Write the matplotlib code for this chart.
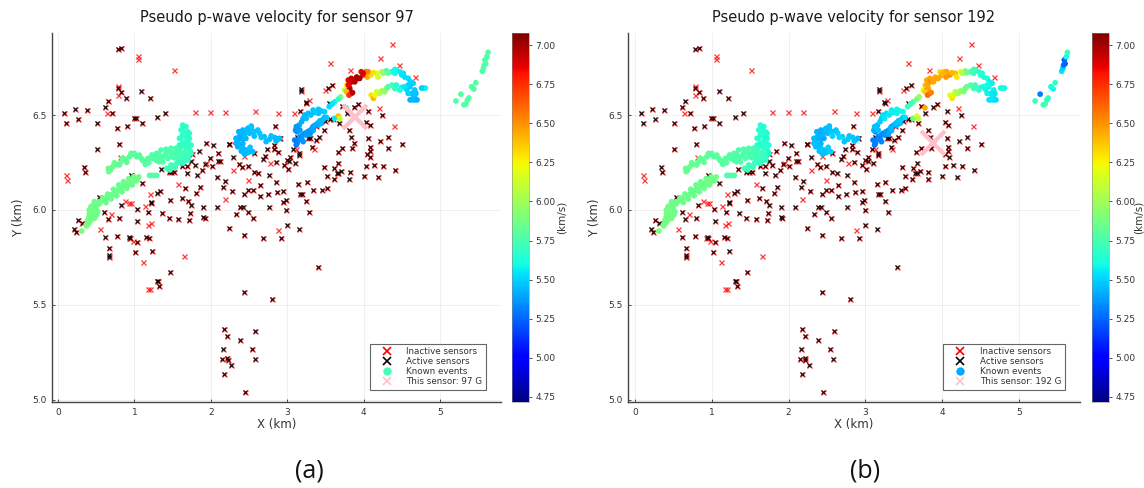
import matplotlib
matplotlib.use('Agg')
import matplotlib.pyplot as plt
from matplotlib.cm import ScalarMappable
from matplotlib.colors import Normalize
from matplotlib.lines import Line2D

W, H = 1144, 488

# sensors (km)
active_x = [.78, .83, .08, .11, .22, .26, .38, .51, .51, .345, .35, .61, .65, .71, .77, .90, .795, .78, .83, .89,
            1.09, 1.205, .99, 1.02, 1.10, 1.30, 1.40, .95, 1.10, .54, .825, 1.035, 1.22, 1.22, 1.18, 1.29, 1.33,
            1.345, 1.45, 1.485, 1.525, 1.69, 1.75, 1.84, 1.94, 2.035, 2.09, 2.235, 2.24, 1.99, 2.10, 2.12, 2.29,
            1.63, 1.69, 1.74, 1.79, 1.93, 1.89, 2.01, 1.82, 2.08, 2.19, 2.16, 2.275, 1.855, 1.81, 1.66, 1.62, 1.46,
            1.70, 1.74, 1.895, 2.08, 2.385, 2.42, 2.44, 2.49, 2.55, 2.64, 2.645, 2.75, 2.865, 2.765, 2.855, 2.76,
            2.37, 2.405, 2.485, 2.57, 2.625, 2.68, 2.71, 2.73, 2.825, 2.825, 2.885, 2.855, 2.56, 2.84, 2.9,
            .258, .31, .205, .236, .607, .65, .80, 1.04, 1.36, 1.45, 1.575, 1.72, 1.73, 1.895, 1.92, 2.33, 2.49,
            2.555, 2.24, 2.43, 2.685, .615, .775, .935, .948, 1.04, 1.155, 1.195, .664, .664, .664, 1.013, 1.227,
            1.463, 1.297, 1.31, 1.327, 2.43, 2.80, 2.175, 2.214, 2.38, 2.585, 2.16, 2.537, 2.15, 2.214, 2.22, 2.26,
            2.576, 2.17, 2.454, 3.29, 3.0, 3.157, 3.406, 2.92,
            3.18, 3.18, 3.53, 3.59, 3.245, 3.25, 3.166, 3.55, 3.72, 3.88, 3.93, 4.057, 4.24, 3.49, 3.56, 3.60, 3.38,
            3.48, 3.68, 3.78, 3.81, 4.03, 4.08, 3.84, 3.88, 4.06, 4.22, 4.32, 4.50, 4.32, 3.72, 3.66, 3.85, 4.08,
            4.08, 4.04, 4.09, 3.67, 3.48, 3.62, 3.67, 3.71, 3.65, 3.52, 3.61, 3.82, 3.81, 4.03, 4.0, 4.135, 4.26,
            4.19, 4.41, 3.145, 3.26, 3.166, 3.19, 3.34, 3.46, 3.52, 2.95, 2.95, 2.98, 3.25, 2.99, 2.91, 3.13, 3.275,
            3.305, 3.375, 3.42, 3.33, 3.08, 3.16, 3.16, 3.035, 3.0, 3.03, 2.956, 3.01, 3.10]
active_y = [6.847, 6.853, 6.512, 6.456, 6.53, 6.48, 6.526, 6.46, 6.32, 6.228, 6.2, 6.54, 6.575, 6.512, 6.43, 6.44,
            6.35, 6.64, 6.62, 6.59, 6.628, 6.59, 6.484, 6.484, 6.46, 6.49, 6.51, 6.186, 6.14, 6.067, 6.028, 6.007,
            6.044, 6.035, 5.987, 6.09, 6.10, 6.214, 6.198, 6.198, 6.198, 6.193, 6.295, 6.31, 6.354, 6.342, 6.302,
            6.347, 6.346, 6.274, 6.258, 6.26, 6.28, 6.23, 6.233, 6.256, 6.235, 6.24, 6.21, 6.233, 6.186, 6.174,
            6.154, 6.12, 6.10, 6.12, 6.09, 6.114, 6.065, 6.053, 6.05, 6.026, 6.014, 6.014, 6.018, 6.018, 6.084,
            6.105, 6.105, 6.13, 6.074, 6.084, 6.093, 6.014, 6.15, 6.182, 6.242, 6.228, 6.23, 6.2, 6.197, 6.27,
            6.286, 6.323, 6.344, 6.323, 6.307, 6.254, 6.298, 6.442, 6.377,
            5.949, 5.93, 5.898, 5.886, 5.99, 5.951, 5.958, 5.944, 5.982, 5.96, 5.951, 5.947, 5.982, 5.965, 5.96,
            5.98, 5.988, 5.956, 5.904, 5.867, 5.851, 5.86, 5.861, 5.856, 5.853, 5.833, 5.86, 5.85, 5.80, 5.763,
            5.754, 5.777, 5.784, 5.674, 5.626, 5.626, 5.602, 5.568, 5.532, 5.372, 5.335, 5.314, 5.365, 5.27, 5.268,
            5.214, 5.219, 5.212, 5.186, 5.214, 5.137, 5.044, 5.99, 5.92, 5.90, 5.70, 5.85,
            6.639, 6.625, 6.644, 6.658, 6.57, 6.561, 6.521, 6.565, 6.547, 6.54, 6.56, 6.521, 6.502, 6.468, 6.477,
            6.479, 6.44, 6.42, 6.456, 6.509, 6.42, 6.465, 6.447, 6.386, 6.354, 6.381, 6.365, 6.384, 6.346, 6.325,
            6.328, 6.304, 6.328, 6.33, 6.312, 6.293, 6.281, 6.25, 6.226, 6.219, 6.196, 6.204, 6.193, 6.179, 6.161,
            6.198, 6.161, 6.233, 6.179, 6.237, 6.232, 6.175, 6.209, 6.139, 6.147, 6.084, 6.082, 6.104, 6.104, 6.116,
            6.102, 6.044, 6.053, 6.046, 5.998, 6.377, 6.386, 6.377, 6.377, 6.368, 6.386, 6.33, 6.321, 6.298, 6.289,
            6.281, 6.263, 6.26, 6.237, 6.214, 6.246]

inactive_x = [1.05, 1.05, 1.515, .78, .785, .64, 1.79, 1.99, 2.19, 2.585, 2.88, .81, .10, .118, 1.57, 1.94, 1.20,
              .88, .935, .96, 1.135, .70, 2.18, 2.29, 2.49, 2.43, 2.77, .555, .926, .98, 1.175, 1.214, 1.114, 1.655,
              1.175, 1.20, 2.88, 4.37, 4.22, 4.47, 3.56, 3.825, 4.67, 3.49, 3.28, 3.09, 4.205, 4.40, 3.35, 3.12]
inactive_y = [6.809, 6.793, 6.735, 6.654, 6.605, 6.512, 6.516, 6.514, 6.514, 6.523, 6.512, 6.28, 6.182, 6.158, 6.139,
              6.249, 6.086, 6.049, 6.035, 6.035, 6.021, 5.977, 6.056, 6.21, 6.158, 6.284, 6.246, 5.898, 5.854, 5.835,
              5.923, 5.93, 5.725, 5.76, 5.582, 5.582, 5.895, 6.875, 6.80, 6.761, 6.772, 6.737, 6.698, 6.63, 6.579,
              6.51, 6.539, 6.444, 6.321, 6.319]

# known events (km), velocity as seen for each sensor (km/s)
event_x = [.31, .376, .40, .43, .41, .445, .476, .445, .41, .454, .476, .54, .607, .67, .74, .80, .87, .935, 1.0,
           1.057, .77, .834, .90, .96,
           .685, .716, .77, .825, .88, .935, .98, 1.03, 1.09, 1.144, 1.18, 1.23, 1.29, 1.35, 1.415, 1.48, 1.545,
           1.61, 1.68, 1.73, 1.71, 1.655, 1.57, 1.48, 1.39, 1.33, 1.64, 1.646, 1.68, 1.61, 1.70, 1.66, 1.71, 1.22,
           1.26, 1.45, 1.50, 1.555, 1.61, 1.655,
           2.46, 2.40, 2.354, 2.354, 2.375, 2.40, 2.46, 2.53, 2.57, 2.64, 2.70, 2.77, 2.835, 2.9, 2.505, 2.42, 2.43,
           3.13, 3.157, 3.21, 3.275, 3.36, 3.45, 3.55, 3.625, 3.70, 3.755, 3.78, 3.80, 3.84, 3.91, 3.97, 4.03, 4.05,
           4.10, 4.17, 4.24, 4.30, 4.37, 4.43, 4.50, 4.585, 4.65, 4.67, 4.78, 4.81,
           3.82, 3.87, 3.80, 3.84, 3.93, 3.82,
           4.10, 4.13, 4.17, 4.24, 4.30, 4.37, 4.43, 4.50, 4.565, 4.63, 4.67, 4.61, 4.67,
           3.13, 3.15, 3.166, 3.20, 3.23, 3.27, 3.30, 3.33, 3.365, 3.40, 3.43, 3.49, 3.62, 3.67, 3.69, 3.775,
           5.21, 5.275, 5.315, 5.34, 5.36, 5.38, 5.415, 5.445, 5.47, 5.555, 5.57, 5.58, 5.59, 5.60, 5.615, 5.63]
event_y = [5.889, 5.916, 5.93, 5.947, 5.965, 5.974, 5.99, 5.991, 5.965, 6.023, 6.044, 6.044, 6.053, 6.075, 6.088,
           6.114, 6.13, 6.146, 6.163, 6.174, 6.10, 6.123, 6.139, 6.154,
           6.21, 6.228, 6.24, 6.254, 6.267, 6.28, 6.293, 6.28, 6.272, 6.258, 6.272, 6.29, 6.298, 6.316, 6.32, 6.325,
           6.325, 6.33, 6.325, 6.312, 6.29, 6.28, 6.29, 6.28, 6.284, 6.272, 6.439, 6.412, 6.386, 6.377, 6.36, 6.342,
           6.333, 6.182, 6.182, 6.219, 6.232, 6.246, 6.258, 6.26,
           6.316, 6.31, 6.333, 6.36, 6.386, 6.404, 6.412, 6.43, 6.412, 6.404, 6.386, 6.372, 6.382, 6.377, 6.307,
           6.35, 6.377,
           6.412, 6.447, 6.482, 6.509, 6.514, 6.521, 6.544, 6.57, 6.596, 6.632, 6.658, 6.684, 6.693, 6.70, 6.728,
           6.728, 6.70, 6.711, 6.72, 6.728, 6.733, 6.728, 6.737, 6.711, 6.693, 6.667, 6.632, 6.642, 6.642,
           6.667, 6.684, 6.63, 6.614, 6.693, 6.64,
           6.605, 6.588, 6.623, 6.628, 6.64, 6.658, 6.658, 6.646, 6.635, 6.614, 6.605, 6.58, 6.58,
           6.351, 6.368, 6.386, 6.395, 6.404, 6.412, 6.42, 6.433, 6.447, 6.458, 6.47, 6.488, 6.482, 6.495, 6.482, 6.538,
           6.574, 6.61, 6.554, 6.558, 6.579, 6.59, 6.649, 6.637, 6.67, 6.73, 6.746, 6.763, 6.79, 6.77, 6.807, 6.83]
vel_a = [5.88, 5.88, 5.87, 5.87, 5.88, 5.87, 5.86, 5.87, 5.88, 5.87, 5.86, 5.86, 5.85, 5.86, 5.85, 5.85, 5.85, 5.86,
         5.86, 5.87, 5.85, 5.85, 5.86, 5.86,
         5.85, 5.84, 5.84, 5.82, 5.82, 5.8, 5.8, 5.8, 5.8, 5.8, 5.78, 5.77, 5.77, 5.76, 5.76, 5.76, 5.75, 5.74, 5.72,
         5.7, 5.71, 5.72, 5.75, 5.76, 5.77, 5.77, 5.68, 5.68, 5.67, 5.68, 5.68, 5.68, 5.69, 5.78, 5.78, 5.72, 5.72,
         5.7, 5.7, 5.7,
         5.45, 5.45, 5.42, 5.44, 5.42, 5.44, 5.47, 5.46, 5.48, 5.48, 5.45, 5.45, 5.46, 5.44, 5.46, 5.42, 5.43,
         5.37, 5.4, 5.43, 5.45, 5.47, 5.48, 5.52, 5.58, 5.9, 6.05, 6.2, 6.85, 6.95, 7.0, 6.85, 6.6, 6.45,
         6.3, 6.15, 6.05, 5.72, 5.62, 5.6, 5.55, 5.52, 5.5, 5.47, 5.58, 5.58,
         6.98, 6.95, 6.55, 6.9, 6.98, 6.95,
         6.3, 6.4, 6.15, 6.0, 5.9, 5.72, 5.65, 5.58, 5.5, 5.48, 5.45, 5.42, 5.42,
         5.3, 5.34, 5.36, 5.38, 5.36, 5.38, 5.4, 5.4, 5.42, 5.42, 5.45, 5.42, 5.55, 6.4, 6.1, 5.75,
         5.77, 5.79, 5.78, 5.78, 5.78, 5.78, 5.78, 5.77, 5.78, 5.77, 5.77, 5.77, 5.78, 5.78, 5.77, 5.77]
vel_b = [5.88, 5.88, 5.87, 5.87, 5.88, 5.87, 5.86, 5.87, 5.88, 5.87, 5.86, 5.86, 5.85, 5.86, 5.85, 5.85, 5.85, 5.86,
         5.86, 5.87, 5.85, 5.85, 5.86, 5.86,
         5.85, 5.84, 5.84, 5.82, 5.82, 5.8, 5.8, 5.8, 5.8, 5.8, 5.78, 5.77, 5.77, 5.76, 5.76, 5.76, 5.75, 5.74, 5.7,
         5.66, 5.67, 5.7, 5.74, 5.76, 5.77, 5.77, 5.66, 5.66, 5.64, 5.66, 5.66, 5.66, 5.67, 5.76, 5.76, 5.72, 5.72,
         5.7, 5.7, 5.7,
         5.48, 5.47, 5.45, 5.46, 5.43, 5.42, 5.45, 5.47, 5.48, 5.5, 5.5, 5.47, 5.48, 5.46, 5.48, 5.43, 5.42,
         5.33, 5.45, 5.5, 5.53, 5.57, 5.6, 5.7, 5.78, 6.0, 6.2, 6.35, 6.45, 6.45, 6.42, 6.3, 6.4, 6.48,
         6.5, 6.38, 6.25, 5.9, 5.72, 5.68, 5.68, 5.62, 5.58, 5.57, 5.6, 5.6,
         6.5, 6.45, 6.78, 6.55, 6.45, 6.45,
         6.2, 6.3, 6.05, 5.95, 5.85, 5.78, 5.72, 5.62, 5.58, 5.55, 5.55, 5.55, 5.52,
         5.3, 5.33, 5.33, 5.36, 5.33, 5.36, 5.4, 5.42, 5.45, 5.45, 5.47, 5.52, 5.85, 6.2, 6.1, 6.45,
         5.72, 5.3, 5.72, 5.75, 5.7, 5.7, 5.62, 5.6, 5.68, 5.55, 5.5, 5.3, 5.25, 5.25, 5.62, 5.7]

# more events inside the thick bands, read across their width
band_x = [.585, .65, .725, .795, .856, .926, .99, .54, .63, .694, .77, .838, .90, .97, 1.03, .576, .642, .707, .803,
          .869, .934, 1.0, 1.044, .41, .498, .476, .432, .507, .41, .367, .41, .476, .52, .507, .41, .454, .389,
          .66, .664, .738, .803, .847, .90, .956, 1.0, 1.066, 1.11, 1.144, 1.19, 1.24, 1.284, 1.319, 1.362, 1.415,
          1.459, 1.524, 1.59, 1.655, 1.742, 1.70, 1.633, 1.502, 1.437, 1.371, 1.327,
          1.48, 1.546, 1.611, 1.677, 1.524, 1.58, 1.293,
          1.633, 1.677, 1.611, 1.70, 1.633, 1.59, 1.677, 1.72, 1.742, 1.633, 1.59, 1.72,
          1.424, 1.467, 1.537, 1.48, 1.58, 1.633, 1.70, 1.197, 1.293,
          2.33, 2.376, 2.33, 2.42, 2.485, 2.55, 2.44, 2.515, 2.367, 2.42, 2.485, 2.53, 2.57, 2.616, 2.66, 2.725, 2.79,
          2.855, 2.46, 2.40, 2.506, 2.44,
          3.11, 3.166, 3.12, 3.19, 3.23, 3.25, 3.31, 3.34, 3.41, 3.41, 3.49, 3.59, 3.67,
          3.10, 3.12, 3.19, 3.21, 3.275, 3.25, 3.34, 3.34, 3.41, 3.45, 3.47, 3.515, 3.30,
          3.99, 4.06, 4.127, 4.19, 4.26, 4.32, 4.41, 4.476, 4.54, 4.41, 4.52, 4.615, 4.607, 4.685, 4.585,
          4.15, 4.21, 4.28, 4.32, 4.41, 4.476, 4.54, 4.585, 4.65, 4.64, 4.70, 4.76,
          3.84, 3.80, 3.886, 3.95, 3.777, 3.81, 3.856, 3.996]
band_y = [6.065, 6.084, 6.109, 6.132, 6.149, 6.165, 6.175, 6.032, 6.039, 6.058, 6.075, 6.096, 6.114, 6.132, 6.154,
          6.049, 6.065, 6.081, 6.104, 6.123, 6.135, 6.153, 6.167, 6.0, 6.009, 5.986, 6.018, 6.032, 5.956, 5.921,
          5.939, 5.956, 5.991, 5.974, 5.979, 5.965, 5.947,
          6.219, 6.202, 6.249, 6.237, 6.272, 6.251, 6.298, 6.298, 6.289, 6.26, 6.24, 6.249, 6.272, 6.28, 6.295,
          6.272, 6.298, 6.307, 6.302, 6.307, 6.302, 6.298, 6.272, 6.295, 6.289, 6.272, 6.254, 6.254,
          6.302, 6.298, 6.289, 6.284, 6.275, 6.272, 6.26,
          6.447, 6.439, 6.421, 6.412, 6.395, 6.377, 6.36, 6.377, 6.342, 6.351, 6.342, 6.404,
          6.219, 6.211, 6.225, 6.237, 6.254, 6.246, 6.263, 6.182, 6.182,
          6.351, 6.342, 6.377, 6.325, 6.302, 6.307, 6.295, 6.33, 6.412, 6.421, 6.43, 6.442, 6.389, 6.421, 6.382, 6.36,
          6.39, 6.363, 6.377, 6.377, 6.404, 6.395,
          6.42, 6.421, 6.439, 6.465, 6.5, 6.482, 6.5, 6.526, 6.509, 6.53, 6.518, 6.558, 6.584,
          6.368, 6.342, 6.377, 6.36, 6.412, 6.395, 6.418, 6.44, 6.447, 6.456, 6.477, 6.488, 6.4,
          6.71, 6.728, 6.723, 6.70, 6.72, 6.723, 6.72, 6.728, 6.70, 6.74, 6.72, 6.675, 6.649, 6.614, 6.658,
          6.605, 6.614, 6.623, 6.649, 6.64, 6.632, 6.649, 6.614, 6.605, 6.58, 6.58, 6.642,
          6.675, 6.658, 6.675, 6.693, 6.623, 6.605, 6.618, 6.72]
band_a = [5.86, 5.85, 5.85, 5.85, 5.85, 5.86, 5.86, 5.86, 5.86, 5.85, 5.85, 5.85, 5.86, 5.86, 5.86, 5.86, 5.85, 5.85,
          5.85, 5.85, 5.86, 5.86, 5.87, 5.87, 5.86, 5.87, 5.87, 5.86, 5.88, 5.88, 5.88, 5.87, 5.86, 5.86, 5.87, 5.87, 5.87,
          5.85, 5.85, 5.84, 5.83, 5.82, 5.82, 5.8, 5.8, 5.8, 5.8, 5.8, 5.79, 5.78, 5.77, 5.76, 5.77, 5.76, 5.76, 5.75,
          5.74, 5.72, 5.7, 5.71, 5.73, 5.76, 5.77, 5.77, 5.78,
          5.76, 5.75, 5.74, 5.72, 5.75, 5.74, 5.78,
          5.68, 5.68, 5.68, 5.67, 5.68, 5.68, 5.68, 5.67, 5.68, 5.68, 5.69, 5.67,
          5.73, 5.73, 5.72, 5.72, 5.71, 5.7, 5.7, 5.78, 5.78,
          5.44, 5.42, 5.43, 5.44, 5.45, 5.46, 5.45, 5.47, 5.42, 5.44, 5.46, 5.47, 5.46, 5.47, 5.48, 5.45, 5.46, 5.44,
          5.43, 5.42, 5.45, 5.44,
          5.36, 5.38, 5.38, 5.42, 5.44, 5.45, 5.46, 5.47, 5.48, 5.48, 5.49, 5.55, 5.68,
          5.3, 5.3, 5.36, 5.36, 5.38, 5.38, 5.4, 5.4, 5.42, 5.44, 5.45, 5.48, 5.38,
          6.8, 6.55, 6.3, 6.15, 5.95, 5.8, 5.6, 5.56, 5.52, 5.6, 5.54, 5.5, 5.48, 5.46, 5.5,
          6.2, 6.05, 5.95, 5.78, 5.7, 5.62, 5.55, 5.5, 5.47, 5.44, 5.42, 5.5,
          6.9, 6.85, 6.95, 7.0, 6.4, 6.75, 6.95, 6.9]
band_b = [5.86, 5.85, 5.85, 5.85, 5.85, 5.86, 5.86, 5.86, 5.86, 5.85, 5.85, 5.85, 5.86, 5.86, 5.86, 5.86, 5.85, 5.85,
          5.85, 5.85, 5.86, 5.86, 5.87, 5.87, 5.86, 5.87, 5.87, 5.86, 5.88, 5.88, 5.88, 5.87, 5.86, 5.86, 5.87, 5.87, 5.87,
          5.85, 5.85, 5.84, 5.83, 5.82, 5.82, 5.8, 5.8, 5.8, 5.8, 5.8, 5.79, 5.78, 5.77, 5.76, 5.77, 5.76, 5.76, 5.75,
          5.74, 5.7, 5.66, 5.68, 5.71, 5.75, 5.77, 5.77, 5.78,
          5.76, 5.75, 5.73, 5.7, 5.75, 5.73, 5.78,
          5.65, 5.65, 5.66, 5.64, 5.65, 5.65, 5.65, 5.64, 5.65, 5.65, 5.66, 5.64,
          5.73, 5.73, 5.72, 5.72, 5.7, 5.7, 5.68, 5.76, 5.76,
          5.47, 5.45, 5.45, 5.47, 5.48, 5.5, 5.47, 5.5, 5.43, 5.42, 5.45, 5.46, 5.5, 5.48, 5.52, 5.48, 5.47, 5.47,
          5.4, 5.42, 5.45, 5.43,
          5.42, 5.45, 5.46, 5.5, 5.52, 5.55, 5.56, 5.57, 5.58, 5.58, 5.6, 5.72, 5.88,
          5.3, 5.3, 5.33, 5.33, 5.36, 5.36, 5.42, 5.43, 5.45, 5.47, 5.48, 5.52, 5.4,
          6.45, 6.45, 6.4, 6.3, 6.05, 5.85, 5.72, 5.66, 5.62, 5.72, 5.64, 5.58, 5.58, 5.55, 5.6,
          6.15, 6.0, 5.9, 5.85, 5.75, 5.68, 5.6, 5.58, 5.55, 5.55, 5.52, 5.6,
          6.5, 6.45, 6.45, 6.45, 6.35, 6.6, 6.55, 6.4]

x_ticks = [0, 1, 2, 3, 4, 5]
y_ticks = [5.0, 5.5, 6.0, 6.5]
cb_ticks = [4.75, 5.0, 5.25, 5.5, 5.75, 6.0, 6.25, 6.5, 6.75, 7.0]
vmin, vmax = 4.718, 7.077
ink = '#333333'


def rect(x0, y0, x1, y1):
    # pixel box to figure fraction
    return [x0 / W, 1 - y1 / H, (x1 - x0) / W, (y1 - y0) / H]


def draw_panel(fig, box, cbox, xlim, sensor, sensor_xy, vel, legend_color, letter, letter_x, cb_pad):
    ax = fig.add_axes(rect(*box))
    ax.grid(True, color='#000000', alpha=0.06, lw=0.7)
    ax.set_axisbelow(True)
    ax.plot(active_x + inactive_x, active_y + inactive_y, 'x', color='#ff1010', ms=3.6, mew=0.9, alpha=0.85, ls='none')
    ax.plot(active_x, active_y, 'x', color='#1a0505', ms=3.2, mew=0.8, ls='none')
    ax.scatter(event_x + band_x, event_y + band_y, c=vel, cmap='jet', vmin=vmin, vmax=vmax, s=17, linewidths=0, zorder=3)
    ax.plot([sensor_xy[0]], [sensor_xy[1]], 'x', color='#ffc0cb', ms=17, mew=3, zorder=4)
    ax.set_xlim(*xlim)
    ax.set_ylim(4.989, 6.932)
    ax.set_xticks(x_ticks)
    ax.set_yticks(y_ticks)
    ax.set_yticklabels(['5.0', '5.5', '6.0', '6.5'])
    ax.tick_params(direction='in', length=2.5, width=0.6, labelsize=6.5, colors=ink, pad=4)
    for s in ['top', 'right']:
        ax.spines[s].set_visible(False)
    for s in ['left', 'bottom']:
        ax.spines[s].set_color('#444444')
        ax.spines[s].set_linewidth(1.0)
    ax.set_xlabel('X (km)', fontsize=8.5, color=ink, labelpad=1)
    ax.set_ylabel('Y (km)', fontsize=8.5, color=ink, labelpad=5)
    ax.set_title(f'Pseudo p-wave velocity for sensor {sensor}', fontsize=10.5, color='#1a1a1a', pad=8)

    handles = [
        Line2D([], [], marker='x', color='#ff0000', ls='none', ms=6, mew=1.2),
        Line2D([], [], marker='x', color='#000000', ls='none', ms=6, mew=1.2),
        Line2D([], [], marker='o', color=legend_color, ls='none', ms=6, mew=0),
        Line2D([], [], marker='x', color='#ffc0cb', ls='none', ms=6, mew=1.2),
    ]
    labels = ['Inactive sensors', 'Active sensors', 'Known events', f'This sensor: {sensor} G']
    leg = ax.legend(handles, labels, loc='lower right', bbox_to_anchor=(0.9667, 0.0325), fontsize=6.3,
                    frameon=True, fancybox=False, framealpha=1, edgecolor='#666666', labelcolor=ink,
                    labelspacing=0.1, borderpad=0.45, handlelength=3.0, handletextpad=0.7, borderaxespad=0)
    leg.get_frame().set_linewidth(0.8)

    cax = fig.add_axes(rect(*cbox))
    cb = fig.colorbar(ScalarMappable(Normalize(vmin, vmax), 'jet'), cax=cax)
    cb.set_ticks(cb_ticks)
    cb.set_ticklabels([f'{t:.2f}' for t in cb_ticks])
    cb.ax.tick_params(length=2.5, width=0.6, labelsize=6.5, colors=ink, pad=2)
    cb.outline.set_linewidth(0.4)
    cb.outline.set_edgecolor('#888888')
    cb.set_label('(km/s)', fontsize=7.5, color=ink, labelpad=cb_pad)

    fig.text(letter_x / W, 1 - 471 / H, letter, fontsize=18, color='#111111',
             family='Open Sans', ha='center', va='center')


fig = plt.figure(figsize=(W / 100, H / 100), dpi=100)
draw_panel(fig, (52, 33, 501, 402), (512, 33, 529, 402), (-0.0785, 5.80), 97, (3.89, 6.488),
           vel_a + band_a, '#40ffb8', '(a)', 309, 1)
draw_panel(fig, (628, 33, 1080, 402), (1092, 33, 1109, 402), (-0.091, 5.794), 192, (3.875, 6.354),
           vel_b + band_b, '#00a8ff', '(b)', 865, -1.5)
fig.savefig('out.png', dpi=100)
plt.close(fig)
